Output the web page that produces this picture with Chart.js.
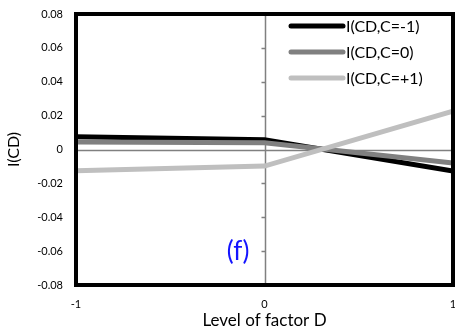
<!DOCTYPE html>
<html>
<head>
<meta charset="utf-8">
<script src="https://cdn.jsdelivr.net/npm/chart.js@4/dist/chart.umd.min.js"></script>
<style>
  html, body { margin: 0; padding: 0; background: #fff; }
  #wrap { width: 455px; height: 335px; }
</style>
</head>
<body>
<div id="wrap"><canvas id="chartCD" width="455" height="335"></canvas></div>
<script>
// levels of factor D and interaction I(CD) for each level of C
const levelsD = [-1, 0, 1]
const seriesNames = ['I(CD,C=-1)', 'I(CD,C=0)', 'I(CD,C=+1)']
const cMinus = [0.0075, 0.0058, -0.0127]
const cZero = [0.0045, 0.0040, -0.0080]
const cPlus = [-0.0125, -0.0098, 0.0226]
const yTicks = [-0.08, -0.06, -0.04, -0.02, 0, 0.02, 0.04, 0.06, 0.08]
const panelTag = '(f)'

const colors = ['#000000', '#808080', '#bfbfbf']
const FONT = 'Lato, "Open Sans", sans-serif'

const toPoints = vals => levelsD.map((d, i) => ({ x: d, y: vals[i] }))

// frame, centre axes with their ticks, legend and panel tag
const decor = {
  id: 'decor',
  beforeDatasetsDraw (chart) {
    const { ctx, chartArea: a, scales: { x, y } } = chart
    const x0 = Math.round(x.getPixelForValue(0)) + 0.5
    const y0 = Math.round(y.getPixelForValue(0)) + 0.5
    ctx.save()
    ctx.strokeStyle = '#808080'
    ctx.lineWidth = 1.5
    ctx.beginPath()
    ctx.moveTo(x0, a.top); ctx.lineTo(x0, a.bottom)
    ctx.moveTo(a.left, y0); ctx.lineTo(a.right, y0)
    yTicks.forEach(v => {
      const py = Math.round(y.getPixelForValue(v)) + 0.5
      ctx.moveTo(x0 - 4, py); ctx.lineTo(x0, py)
    })
    levelsD.forEach(v => {
      const px = Math.round(x.getPixelForValue(v)) + 0.5
      ctx.moveTo(px, y0); ctx.lineTo(px, y0 + 4)
    })
    ctx.stroke()
    ctx.restore()
  },
  afterDraw (chart) {
    const { ctx, chartArea: a, scales: { x, y } } = chart
    ctx.save()
    ctx.strokeStyle = '#000'
    ctx.lineWidth = 4
    ctx.strokeRect(a.left, a.top, a.right - a.left, a.bottom - a.top)

    // legend in the upper right corner
    ctx.lineCap = 'round'
    ctx.lineWidth = 5
    ctx.font = '16px ' + FONT
    ctx.textBaseline = 'middle'
    seriesNames.forEach((name, i) => {
      const ly = 26 + i * 26
      ctx.strokeStyle = colors[i]
      ctx.beginPath()
      ctx.moveTo(291, ly); ctx.lineTo(343, ly)
      ctx.stroke()
      ctx.fillStyle = '#000'
      ctx.fillText(name, 346, ly + 1)
    })

    ctx.fillStyle = '#1414ff'
    ctx.font = '26px ' + FONT
    ctx.textAlign = 'center'
    ctx.fillText(panelTag, x.getPixelForValue(-0.14), y.getPixelForValue(-0.060))
    ctx.restore()
  }
}

const ctx = document.getElementById('chartCD')
new Chart(ctx, {
  type: 'line',
  data: {
    datasets: [cMinus, cZero, cPlus].map((vals, i) => ({
      label: seriesNames[i],
      data: toPoints(vals),
      borderColor: colors[i],
      backgroundColor: colors[i],
      borderWidth: 5,
      pointRadius: 0,
      tension: 0,
      order: 3 - i
    }))
  },
  options: {
    responsive: false,
    animation: false,
    layout: { padding: { top: 14, right: 2, left: 0, bottom: 0 } },
    plugins: { legend: { display: false }, tooltip: { enabled: false } },
    scales: {
      x: {
        type: 'linear',
        min: -1,
        max: 1,
        afterBuildTicks: s => { s.ticks = levelsD.map(v => ({ value: v })) },
        afterFit: s => { s.height = 50; s.paddingLeft = 0; s.paddingRight = 0 },
        grid: { display: false, drawTicks: false, tickLength: 0 },
        border: { display: false },
        ticks: {
          color: '#000',
          font: { family: FONT, size: 11 },
          padding: 13,
          maxRotation: 0,
          callback: v => String(v)
        },
        title: {
          display: true,
          text: 'Level of factor D',
          color: '#000',
          font: { family: FONT, size: 17 },
          padding: { top: 1 }
        }
      },
      y: {
        min: -0.08,
        max: 0.08,
        afterBuildTicks: s => { s.ticks = yTicks.map(v => ({ value: v })) },
        afterFit: s => { s.width = 76; s.paddingTop = 0; s.paddingBottom = 0 },
        grid: { display: false, drawTicks: false, tickLength: 0 },
        border: { display: false },
        ticks: {
          color: '#000',
          font: { family: FONT, size: 11 },
          padding: 13,
          callback: v => (v === 0 ? '0' : v.toFixed(2))
        },
        title: {
          display: true,
          text: 'I(CD)',
          color: '#000',
          font: { family: FONT, size: 16 },
          padding: { bottom: 2 }
        }
      }
    }
  },
  plugins: [decor]
})
</script>
</body>
</html>
